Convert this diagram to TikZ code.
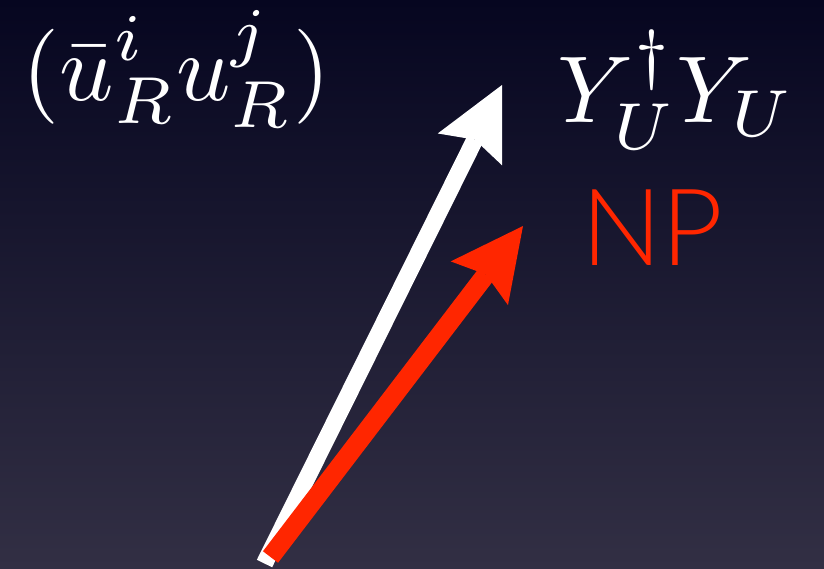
\documentclass[tikz,border=0pt]{standalone}
\usepackage{fontspec}
\newfontfamily\npfont{Lato Light}
\usetikzlibrary{arrows.meta}
\definecolor{bgtop}{RGB}{6,6,32}
\definecolor{bgmid}{RGB}{28,28,54}
\definecolor{bgbot}{RGB}{50,47,68}
\definecolor{npred}{RGB}{255,38,0}
\begin{document}
\begin{tikzpicture}[x=1pt,y=-1pt,
  mathlabel/.style={inner sep=0pt, anchor=base west, text=white, font=\fontsize{10}{12}\selectfont, scale=9.5},
  nplabel/.style={inner sep=0pt, anchor=base west, text=npred, font=\npfont\fontsize{107}{110}\selectfont},
  bigarrow/.style={line width=#1, -{Stealth[length=72pt,width=72pt,inset=11pt,line width=0pt]}},
]
\useasboundingbox (0,0) rectangle (824,568);
\shade[top color=bgtop, middle color=bgmid, bottom color=bgbot] (0,0) rectangle (824,568);
\node[mathlabel] (left) at (21,100) {$\displaystyle(\bar{u}^i_R u^j_R)$};
\node[mathlabel] (right) at (556,122) {$\displaystyle Y^\dagger_U Y_U$};
\node[nplabel] (np) at (581,265) {NP};
\coordinate (ws) at (264.5,563.5);
\coordinate (wt) at (502,85);
\coordinate (rs) at (270.5,557);
\coordinate (rt) at (523,226);
\draw[bigarrow=17pt, white] (ws) -- (wt);
\draw[bigarrow=19pt, npred] (rs) -- (rt);
\end{tikzpicture}
\end{document}
